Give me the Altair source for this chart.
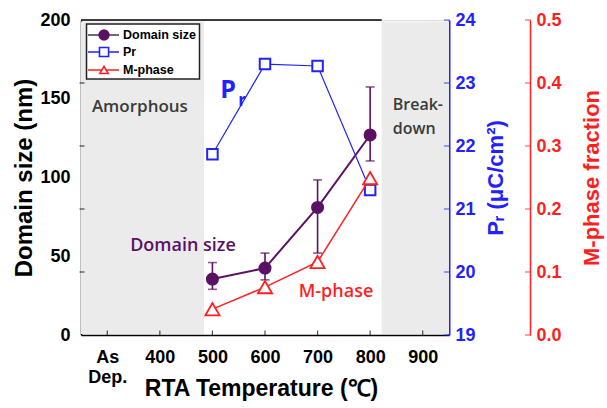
import altair as alt
import pandas as pd

# ---- data -----------------------------------------------------------------
temps = [500, 600, 700, 800]
domain_size = [35.5, 42.5, 81.0, 127.0]          # nm
domain_low = [29.0, 35.0, 52.0, 110.5]
domain_high = [46.0, 52.0, 98.5, 157.5]
pr_values = [21.87, 23.30, 23.27, 21.30]         # uC/cm^2
m_phase = [0.041, 0.076, 0.116, 0.249]           # fraction

x_tick_values = [300, 400, 500, 600, 700, 800, 900]
left_tick_values = [40, 80, 120, 160]
pr_tick_values = [19, 20, 21, 22, 23, 24]
m_tick_values = [0.0, 0.1, 0.2, 0.3, 0.4, 0.5]

region_start = [250, 822]
region_end = [484, 950]

series_names = ["Domain size", "Pr", "M-phase"]

# ---- style ----------------------------------------------------------------
W, H = 368, 315
PURPLE = "#5b1163"
BLUE = "#2222ff"
RED = "#ff1f1f"
GRAY = "#ebebeb"
BOLD = "Liberation Sans"
SOFT = "Open Sans"

x_scale = alt.Scale(domain=[250, 950], nice=False, zero=False)
y_left = alt.Scale(domain=[0, 200], nice=False)
y_pr = alt.Scale(domain=[19, 24], nice=False, zero=False)
y_m = alt.Scale(domain=[0, 0.5], nice=False)

df = pd.DataFrame({
    "T": temps, "size": domain_size, "lo": domain_low, "hi": domain_high,
    "pr": pr_values, "m": m_phase,
})
regions = pd.DataFrame({"x0": region_start, "x1": region_end, "y0": [0.6] * 2, "y1": [199] * 2})

x_axis = alt.Axis(
    values=x_tick_values, labelExpr="datum.value == 300 ? ['As', 'Dep.'] : datum.label",
    labelFont=BOLD, labelFontWeight="bold", labelFontSize=18, labelColor="black",
    labelBaseline="middle", labelPadding=22, labelLineHeight=20, ticks=False,
    domainColor="black", domainWidth=1.5, grid=False,
    title="RTA Temperature (℃)", titleFont=BOLD, titleFontWeight="bold", titleFontSize=23,
    titleColor="black", titleX=180, titleY=53, titleBaseline="middle",
)
x_enc = alt.X("T:Q", scale=x_scale, axis=x_axis)


def xq(field):
    return alt.X(field, scale=x_scale)


# ---- left axis group: background regions, domain size, annotations ----------
bg = alt.Chart(regions).mark_rect(color=GRAY).encode(
    x=alt.X("x0:Q", scale=x_scale, axis=x_axis), x2="x1:Q",
    y=alt.Y("y0:Q", scale=y_left, axis=alt.Axis(
        values=[0, 50, 100, 150, 200], labelFont=BOLD, labelFontWeight="bold",
        labelFontSize=18, labelColor="black", labelPadding=11, ticks=False,
        domainColor="black", domainWidth=1.5, grid=False,
        title="Domain size (nm)", titleFont=BOLD, titleFontWeight="bold",
        titleFontSize=24, titleColor="black", titleX=-57, titleY=H / 2,
        titleAngle=270, titleBaseline="middle", titleAlign="center")),
    y2="y1:Q",
)

top_line = alt.Chart(pd.DataFrame({"a": [250], "b": [822], "y": [200]})).mark_rule(
    color="black", strokeWidth=1.5).encode(
    x=xq("a:Q"), x2="b:Q", y=alt.Y("y:Q", scale=y_left))

left_ticks = alt.Chart(pd.DataFrame({"v": left_tick_values, "x": [252] * 4})).mark_tick(
    orient="horizontal", color="black", size=5, thickness=1.2).encode(
    y=alt.Y("v:Q", scale=y_left), x=xq("x:Q"))

bottom_ticks = alt.Chart(pd.DataFrame({"v": x_tick_values, "y": [1.3] * 7})).mark_tick(
    orient="vertical", color="black", size=5, thickness=1.2).encode(
    x=xq("v:Q"), y=alt.Y("y:Q", scale=y_left))

size_line = alt.Chart(df).mark_line(color=PURPLE, strokeWidth=2).encode(
    x=x_enc, y=alt.Y("size:Q", scale=y_left))
err = alt.Chart(df).mark_rule(color=PURPLE, strokeWidth=1.6).encode(
    x=x_enc, y=alt.Y("lo:Q", scale=y_left), y2="hi:Q")
cap_hi = alt.Chart(df).mark_tick(orient="horizontal", color=PURPLE, size=9, thickness=1.6).encode(
    x=x_enc, y=alt.Y("hi:Q", scale=y_left))
cap_lo = alt.Chart(df).mark_tick(orient="horizontal", color=PURPLE, size=9, thickness=1.6).encode(
    x=x_enc, y=alt.Y("lo:Q", scale=y_left))
size_pts = alt.Chart(df).mark_point(shape="circle", filled=True, color=PURPLE, size=170, opacity=1).encode(
    x=x_enc, y=alt.Y("size:Q", scale=y_left))

notes = pd.DataFrame({
    "x": [362, 843, 843, 444],
    "y": [144.8, 146, 131, 56.5],
    "t": ["Amorphous", "Break-", "down", "Domain size"],
    "c": ["#3a3a3a", "#3a3a3a", "#3a3a3a", PURPLE],
    "a": ["center", "left", "left", "center"],
    "s": [17, 16, 16, 18],
})
note_marks = []
for _, r in notes.iterrows():
    note_marks.append(
        alt.Chart(pd.DataFrame([r])).mark_text(
            font=SOFT, fontWeight=600, fontSize=int(r["s"]), color=r["c"], align=r["a"],
            baseline="middle").encode(
            x=xq("x:Q"), y=alt.Y("y:Q", scale=y_left), text="t:N"))

# ---- legend box (placed in the left axis' data space) -----------------------
legend_rows = pd.DataFrame({
    "name": series_names,
    "row": [190.5, 179.7, 168.3],
    "sym": [293.8] * 3,
    "l0": [263.3] * 3,
    "l1": [322.3] * 3,
    "tx": [329.9] * 3,
})
legend_frame = pd.DataFrame({"x0": [260.5], "x1": [475.4], "y0": [162.5], "y1": [197.5]})

leg_box = alt.Chart(legend_frame).mark_rect(fill="white", stroke="#222222", strokeWidth=1.5).encode(
    x=xq("x0:Q"), x2="x1:Q", y=alt.Y("y0:Q", scale=y_left), y2="y1:Q")
leg_lines = alt.Chart(legend_rows).mark_rule(strokeWidth=1.6).encode(
    x=xq("l0:Q"), x2="l1:Q", y=alt.Y("row:Q", scale=y_left),
    color=alt.Color("name:N", scale=alt.Scale(domain=series_names, range=["#4a3050", BLUE, RED]), legend=None))
leg_syms = alt.Chart(legend_rows).mark_point(strokeWidth=1.6, opacity=1, filled=True).encode(
    x=xq("sym:Q"), y=alt.Y("row:Q", scale=y_left),
    shape=alt.Shape("name:N", scale=alt.Scale(domain=series_names, range=["circle", "square", "triangle-up"]), legend=None),
    fill=alt.Fill("name:N", scale=alt.Scale(domain=series_names, range=[PURPLE, "white", "white"]), legend=None),
    stroke=alt.Stroke("name:N", scale=alt.Scale(domain=series_names, range=[PURPLE, BLUE, RED]), legend=None),
    size=alt.Size("name:N", scale=alt.Scale(domain=series_names, range=[95, 70, 105]), legend=None),
)
leg_text = alt.Chart(legend_rows).mark_text(
    font=BOLD, fontWeight="bold", fontSize=12.5, color="black", align="left", baseline="middle").encode(
    x=xq("tx:Q"), y=alt.Y("row:Q", scale=y_left), text="name:N")

left_group = alt.layer(bg, top_line, left_ticks, bottom_ticks, size_line, err, cap_hi, cap_lo,
                       size_pts, *note_marks, leg_box, leg_lines, leg_syms, leg_text)

# ---- Pr group ---------------------------------------------------------------
pr_axis = alt.Axis(
    orient="right", values=pr_tick_values, format="d", labelFont=BOLD, labelFontWeight="bold",
    labelFontSize=18, labelColor=BLUE, labelPadding=6, ticks=False,
    domainColor=BLUE, domainWidth=2, grid=False,
    title="Pᵣ (μC/cm²)", titleFont=BOLD, titleFontWeight="bold", titleFontSize=22,
    titleColor=BLUE, titleX=46, titleY=H / 2, titleAngle=270, titleBaseline="middle",
    titleAlign="center")
pr_line = alt.Chart(df).mark_line(color=BLUE, strokeWidth=1.2).encode(
    x=x_enc, y=alt.Y("pr:Q", scale=y_pr, axis=pr_axis))
pr_pts = alt.Chart(df).mark_point(shape="square", filled=True, fill="white", stroke=BLUE,
                                  strokeWidth=2, size=110, opacity=1).encode(
    x=x_enc, y=alt.Y("pr:Q", scale=y_pr))
pr_ticks = alt.Chart(pd.DataFrame({"v": pr_tick_values, "x": [946] * 6})).mark_tick(
    orient="horizontal", color=BLUE, size=6, thickness=1.2).encode(
    y=alt.Y("v:Q", scale=y_pr), x=xq("x:Q"))
pr_note = pd.DataFrame({"x": [530], "y": [22.89]})
pr_p = alt.Chart(pr_note).mark_text(text="P", font=SOFT, fontWeight="bold", fontSize=25,
                                    color=BLUE, baseline="middle", align="center").encode(
    x=xq("x:Q"), y=alt.Y("y:Q", scale=y_pr))
pr_r = alt.Chart(pr_note).mark_text(text="r", font=SOFT, fontWeight="bold", fontSize=17,
                                    color=BLUE, baseline="middle", align="center", dx=14, dy=11).encode(
    x=xq("x:Q"), y=alt.Y("y:Q", scale=y_pr))
pr_group = alt.layer(pr_line, pr_ticks, pr_pts, pr_p, pr_r)

# ---- M-phase group ------------------------------------------------------------
m_axis = alt.Axis(
    orient="right", offset=81, values=m_tick_values, format=".1f", labelFont=BOLD,
    labelFontWeight="bold", labelFontSize=18, labelColor=RED, labelPadding=6, ticks=False,
    domainColor=RED, domainWidth=1.5, grid=False,
    title="M-phase fraction", titleFont=BOLD, titleFontWeight="bold", titleFontSize=22,
    titleColor=RED, titleX=61, titleY=H / 2, titleAngle=270, titleBaseline="middle",
    titleAlign="center")
m_line = alt.Chart(df).mark_line(color=RED, strokeWidth=1.5).encode(
    x=x_enc, y=alt.Y("m:Q", scale=y_m, axis=m_axis))
m_pts = alt.Chart(df).mark_point(shape="triangle-up", filled=True, fill="white", stroke=RED,
                                 strokeWidth=1.8, size=200, opacity=1).encode(
    x=x_enc, y=alt.Y("m:Q", scale=y_m))
m_ticks = alt.Chart(pd.DataFrame({"v": m_tick_values, "x": [1100.3] * 6})).mark_tick(
    orient="horizontal", color=RED, size=6, thickness=1.2).encode(
    y=alt.Y("v:Q", scale=y_m), x=xq("x:Q"))
m_note = alt.Chart(pd.DataFrame({"x": [735], "y": [0.068], "t": ["M-phase"]})).mark_text(
    font=SOFT, fontWeight=600, fontSize=18, color=RED, baseline="middle", align="center").encode(
    x=xq("x:Q"), y=alt.Y("y:Q", scale=y_m), text="t:N")
m_group = alt.layer(m_line, m_ticks, m_pts, m_note)

chart = alt.layer(left_group, pr_group, m_group).resolve_scale(
    y="independent"
).properties(
    width=W, height=H,
    autosize=alt.AutoSizeParams(type="none"),
    padding={"left": 81, "top": 20, "right": 607 - 81 - W, "bottom": 408 - 20 - H},
).configure_view(stroke=None).configure(background="white")

chart.save("out.html", embed_options={"renderer": "svg", "actions": False})
